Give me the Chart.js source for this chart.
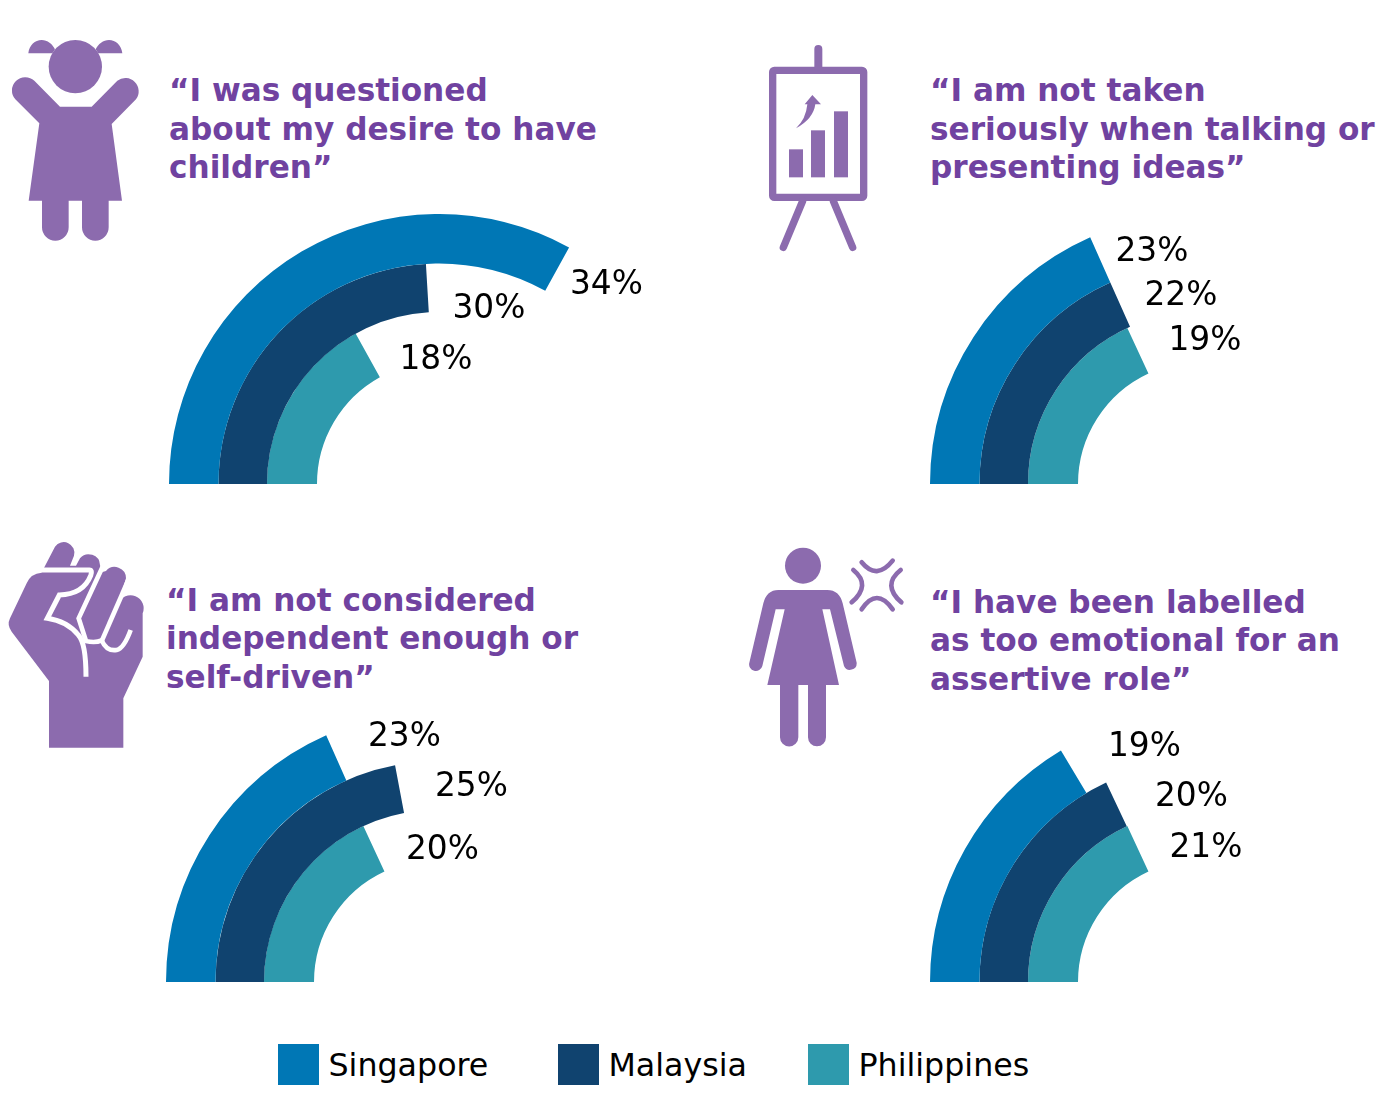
<!DOCTYPE html>
<html><head><meta charset="utf-8">
<script src="https://cdn.jsdelivr.net/npm/chart.js@4"></script>
<style>
html,body{margin:0;padding:0;background:#fff;overflow:hidden}
#page{position:relative;width:1385px;height:1118px;overflow:hidden;font-family:"DejaVu Sans",sans-serif}
canvas{position:absolute}
.t{position:absolute;white-space:nowrap;color:#000}
.title{font-weight:700;color:#7042a0;font-size:31.15px;line-height:38.5px}
.val{font-size:32.8px;line-height:40px}
.leg{font-size:31.7px;line-height:40px}
.sw{position:absolute;width:41px;height:41px;top:1044px}
svg{position:absolute;left:0;top:0}
</style></head><body><div id="page">
<svg width="1385" height="1118" fill="#8c6bae">
<g transform="translate(0,30) scale(.33333)">
<circle cx="226" cy="110" r="80"/>
<path d="M85 70 C88 45 105 30 125 30 C142 30 158 42 165 58 L157 70 Z M367 70 C364 45 347 30 327 30 C310 30 294 42 287 58 L295 70 Z"/>
<path d="M180 230 H275 L352 152 A40 40 0 0 1 408 208 L335 282 L366 512 H326 V592 A40 40 0 0 1 246 592 V512 H206 V592 A40 40 0 0 1 126 592 V512 H86 L118 280 L46 208 A40 40 0 0 1 103 152 Z"/>
</g>
<g transform="translate(750,35) scale(.33333)">
<rect x="68" y="106" width="273" height="381" rx="5" fill="none" stroke="#8c6bae" stroke-width="22"/>
<path d="M205 42 V95" stroke="#8c6bae" stroke-width="24" stroke-linecap="round"/>
<path d="M158 498 L100 637 M250 498 L308 637" stroke="#8c6bae" stroke-width="22" stroke-linecap="round"/>
<rect x="117" y="343" width="42" height="84"/><rect x="183" y="286" width="42" height="141"/><rect x="252" y="229" width="42" height="198"/>
<path d="M138 280 Q168 252 172 208 H164 L187 180 L213 208 H196 Q190 252 138 280 Z"/>
</g>
<g transform="translate(0,535) scale(.33333)">
<path d="M147 638 V438 L35 290 Q20 270 30 250 L80 145 Q92 115 125 113 L133 97 L165 35 A32 32 0 0 1 222 62 L210 92 H228 L240 70 A34 34 0 0 1 300 90 L305 112 L318 108 A34 34 0 0 1 378 130 L355 205 A35 35 0 0 1 428 235 V365 L370 490 V638 Z"/>
<path d="M125 105 H268 Q278 105 272 122 Q250 178 178 180 L142 250 Q200 258 235 300 Q258 325 258 425" fill="none" stroke="#fff" stroke-width="15"/>
<path d="M308 95 L236 250 L258 318 Q285 325 305 316 Q320 350 350 345 Q372 340 392 285" fill="none" stroke="#fff" stroke-width="14"/>
<path d="M385 135 L306 316" fill="none" stroke="#fff" stroke-width="14"/>
</g>
<g transform="translate(740,540) scale(.33333)">
<circle cx="189" cy="77" r="54"/>
<path d="M115 150 H262 Q298 150 308 190 L350 368 A20 20 0 0 1 312 378 L270 208 H247 L297 435 H258 V592 A27 27 0 0 1 204 592 V435 H175 V592 A27 27 0 0 1 120 592 V435 H82 L134 208 H107 L67 378 A20 20 0 0 1 28 368 L70 190 Q80 150 115 150 Z"/>
<path d="M365 67 Q410 122 458 62 M365 208 Q410 140 458 208 M340 90 Q395 135 335 187 M482 90 Q425 135 484 187" fill="none" stroke="#8c6bae" stroke-width="14" stroke-linecap="round"/>
</g>
</svg>
</div>
<script>
const seriesNames = ["Singapore", "Malaysia", "Philippines"];
const seriesColors = ["#0077b5", "#10436f", "#2e9aad"];
// printed percentage labels, panel by panel (Singapore, Malaysia, Philippines)
const desireChildrenLabels = [34, 30, 18];
const notSeriousLabels = [23, 22, 19];
const notIndependentLabels = [23, 25, 20];
const tooEmotionalLabels = [19, 20, 21];
// swept angle of each drawn arc in degrees
const desireChildrenSweep = [118.8, 86.6, 61];
const notSeriousSweep = [66, 66, 65];
const notIndependentSweep = [66, 79.3, 65];
const tooEmotionalSweep = [59, 64.8, 65];
const titleDesire = ["“I was questioned", "about my desire to have", "children”"];
const titleSerious = ["“I am not taken", "seriously when talking or", "presenting ideas”"];
const titleIndependent = ["“I am not considered", "independent enough or", "self-driven”"];
const titleEmotional = ["“I have been labelled", "as too emotional for an", "assertive role”"];

const page = document.getElementById("page");
function addText(cls, txt, x, y, lh) {
  const d = document.createElement("div");
  d.className = "t " + cls;
  d.innerHTML = txt;
  d.style.left = x + "px";
  d.style.top = (y - lh / 2) + "px";
  page.appendChild(d);
}
const R = 270, ringW = [49.5, 48.5, 50];
function panel(cx, baseY, sweeps, labels, labelPos, title, titleX, titleY) {
  const c = document.createElement("canvas");
  c.width = 2 * R; c.height = R;
  c.style.left = (cx - R) + "px"; c.style.top = (baseY - R) + "px";
  page.appendChild(c);
  new Chart(c, {
    type: "doughnut",
    data: {
      labels: ["value", "rest"],
      datasets: sweeps.map((s, i) => ({
        label: seriesNames[i],
        data: [s, 180 - s],
        backgroundColor: [seriesColors[i], "rgba(0,0,0,0)"],
        borderWidth: 0,
        weight: ringW[i]
      }))
    },
    options: {
      responsive: false, animation: false, rotation: -90, circumference: 180,
      cutout: ((R - ringW[0] - ringW[1] - ringW[2]) / R * 100) + "%",
      layout: { padding: 0 },
      plugins: { legend: { display: false }, tooltip: { enabled: false } }
    }
  });
  labels.forEach((v, i) => addText("val", v + "%", labelPos[i][0], labelPos[i][1], 40));
  addText("title", title.join("<br>"), titleX, titleY, 38.5 * 3);
}
panel(439, 484, desireChildrenSweep, desireChildrenLabels, [[570,283],[452.5,307],[399.5,358]], titleDesire, 169, 129);
panel(1200, 484, notSeriousSweep, notSeriousLabels, [[1115.5,250],[1144.5,294],[1168.5,339]], titleSerious, 930, 129);
panel(436, 982, notIndependentSweep, notIndependentLabels, [[368,735],[435,785],[406,848]], titleIndependent, 166, 638.5);
panel(1200, 982, tooEmotionalSweep, tooEmotionalLabels, [[1108,745],[1155,795],[1169.5,846]], titleEmotional, 930, 640.5);
[278, 558, 808].forEach((x, i) => {
  const s = document.createElement("div");
  s.className = "sw"; s.style.left = x + "px"; s.style.background = seriesColors[i];
  page.appendChild(s);
  addText("leg", seriesNames[i], x + 50.5, 1065, 40);
});
</script></body></html>
